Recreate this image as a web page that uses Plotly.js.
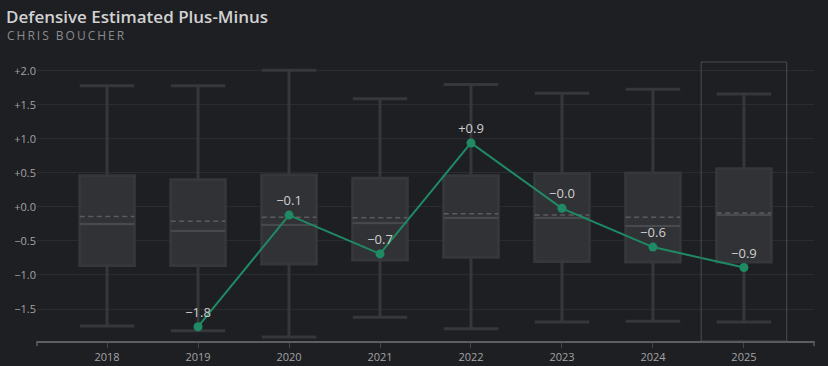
<!DOCTYPE html>
<html>
<head>
<meta charset="utf-8">
<script src="https://cdn.plot.ly/plotly-3.0.1.min.js"></script>
<style>
  html, body { margin: 0; padding: 0; background: #1e1f23; }
  #chart { width: 828px; height: 366px; }
  .annotation[data-index="1"] .annotation-text { letter-spacing: 2px; }
  path.mean { stroke-dasharray: 5px, 3.5px !important; }
</style>
</head>
<body>
<div id="chart"></div>
<script>
// ---- data ----
const years       = ['2018', '2019', '2020', '2021', '2022', '2023', '2024', '2025'];
const q1          = [-0.86, -0.86, -0.84, -0.78, -0.74, -0.80, -0.81, -0.81];
const q3          = [ 0.46,  0.40,  0.47,  0.42,  0.46,  0.49,  0.50,  0.56];
const medians     = [-0.25, -0.35, -0.26, -0.24, -0.16, -0.16, -0.28, -0.12];
const means       = [-0.14, -0.21, -0.15, -0.16, -0.10, -0.12, -0.15, -0.09];
const lowerFence  = [-1.75, -1.82, -1.91, -1.62, -1.79, -1.69, -1.68, -1.69];
const upperFence  = [ 1.78,  1.78,  2.01,  1.59,  1.80,  1.67,  1.73,  1.66];
const playerDBPM  = [ null, -1.76, -0.12, -0.69,  0.94, -0.02, -0.59, -0.89];
const yTickVals   = [-1.5, -1.0, -0.5, 0.0, 0.5, 1.0, 1.5, 2.0];
const highlightYear = '2025';
const titleText = 'Defensive Estimated Plus-Minus';
const subtitleText = 'CHRIS BOUCHER';

// ---- build ----
const idx = years.map((_, i) => i);
const fmt = v => v === null ? '' : (v >= 0 ? '+' : '\u2212') + Math.abs(v).toFixed(1);
const labels = playerDBPM.map(fmt);
const yTickText = yTickVals.map(fmt);
const hi = years.indexOf(highlightYear);

const FONT = 'Open Sans, Lato, sans-serif';

const boxTrace = {
  type: 'box', x: idx,
  q1: q1, median: medians, q3: q3,
  lowerfence: lowerFence, upperfence: upperFence,
  width: 0.6, whiskerwidth: 1,
  fillcolor: '#313236',
  line: { color: '#36373b', width: 3 },
  boxpoints: false, hoverinfo: 'skip', showlegend: false
};
const meanTrace = {
  type: 'box', x: idx,
  q1: medians, median: medians, q3: medians,
  lowerfence: medians, upperfence: medians, mean: means,
  boxmean: true,
  width: 0.6, whiskerwidth: 0,
  fillcolor: 'rgba(0,0,0,0)',
  line: { color: '#5b5c60', width: 1.5 },
  boxpoints: false, hoverinfo: 'skip', showlegend: false
};
const medianTrace = {
  type: 'box', x: idx,
  q1: medians, median: medians, q3: medians,
  lowerfence: medians, upperfence: medians,
  width: 0.6, whiskerwidth: 0,
  fillcolor: 'rgba(0,0,0,0)',
  line: { color: '#47484c', width: 1.5 },
  boxpoints: false, hoverinfo: 'skip', showlegend: false
};
const lineTrace = {
  type: 'scatter', mode: 'lines+markers+text',
  x: idx, y: playerDBPM, text: labels,
  textposition: 'top center',
  textfont: { family: FONT, size: 13, color: '#cfcfcf' },
  line: { color: '#1f8a63', width: 2 },
  marker: { color: '#1f8a63', size: 9 },
  hoverinfo: 'skip', showlegend: false, cliponaxis: false
};

const layout = {
  width: 828, height: 366,
  margin: { l: 37, r: 14, t: 62, b: 25 },
  paper_bgcolor: '#1e1f23', plot_bgcolor: '#1e1f23',
  font: { family: FONT, color: '#a3a3a3' },
  showlegend: false,
  xaxis: {
    range: [-0.77, 7.77], tickvals: idx, ticktext: years,
    showgrid: false, zeroline: false,
    showline: true, linecolor: '#5d5e62', linewidth: 1.5,
    ticks: 'outside', ticklen: 5, tickcolor: '#45464a', tickwidth: 1,
    tickfont: { family: FONT, size: 11, color: '#a3a3a3' },
    fixedrange: true
  },
  yaxis: {
    range: [-1.97, 2.13], tickmode: 'array', tickvals: yTickVals, ticktext: yTickText,
    showgrid: true, gridcolor: '#2b2c30', gridwidth: 1,
    zeroline: false, showline: false, ticks: '',
    tickfont: { family: FONT, size: 11, color: '#a3a3a3' },
    fixedrange: true
  },
  shapes: [
    { type: 'rect', xref: 'x', yref: 'paper', x0: hi - 0.47, x1: hi + 0.47, y0: 0, y1: 1,
      line: { color: '#4b4c50', width: 1 }, fillcolor: 'rgba(0,0,0,0)', layer: 'above' },
    { type: 'line', xref: 'paper', yref: 'paper', ysizemode: 'pixel', yanchor: 0,
      x0: 0, x1: 0, y0: 0, y1: -5, line: { color: '#5d5e62', width: 1.5 } },
    { type: 'line', xref: 'paper', yref: 'paper', ysizemode: 'pixel', yanchor: 0,
      x0: 1, x1: 1, y0: 0, y1: -5, line: { color: '#5d5e62', width: 1.5 } }
  ],
  annotations: [
    { text: titleText, xref: 'paper', yref: 'paper', x: -0.042, y: 1.163,
      xanchor: 'left', yanchor: 'middle', showarrow: false,
      font: { family: FONT, size: 17, color: '#d2d2d2', weight: 600 } },
    { text: subtitleText, xref: 'paper', yref: 'paper', x: -0.025, y: 1.095,
      xanchor: 'left', yanchor: 'middle', showarrow: false,
      font: { family: FONT, size: 12, color: '#8a8b8f' } }
  ]
};

Plotly.newPlot('chart', [boxTrace, meanTrace, medianTrace, lineTrace], layout,
  { displayModeBar: false, staticPlot: true });
</script>
</body>
</html>
